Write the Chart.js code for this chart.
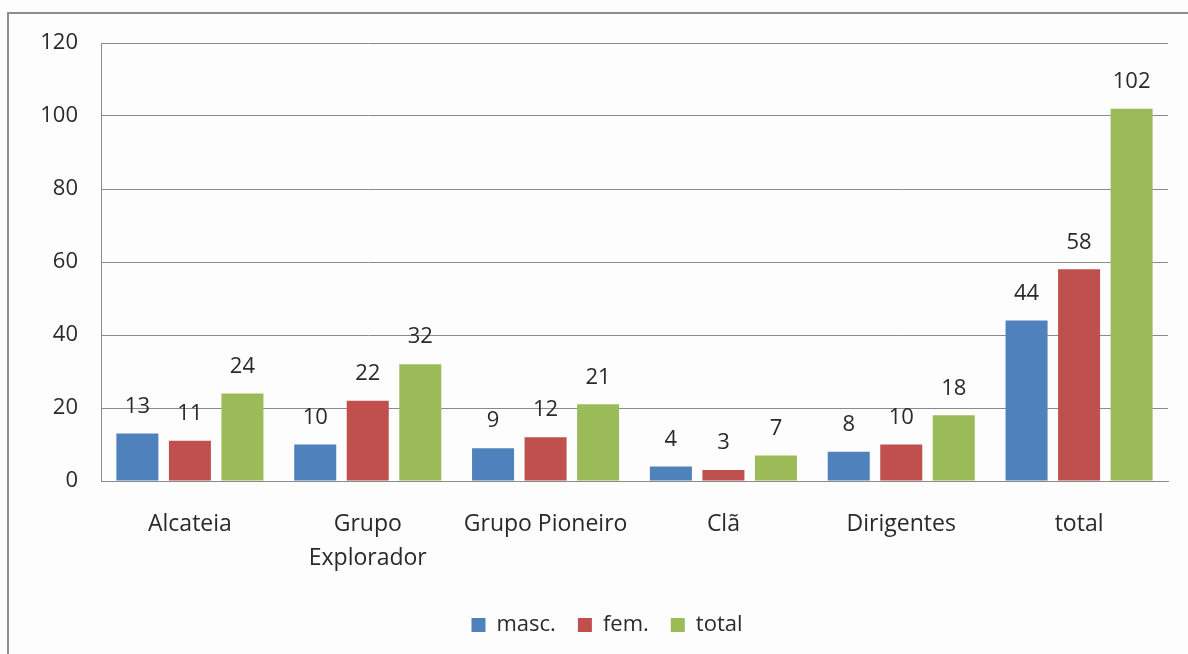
<!DOCTYPE html>
<html>
<head>
<meta charset="utf-8">
<script src="https://cdn.jsdelivr.net/npm/chart.js@4"></script>
<style>
  html, body { margin: 0; padding: 0; background: #fdfdfd; overflow: hidden; }
  #frame {
    position: absolute; left: 7px; top: 12px; width: 1300px; height: 800px;
    border-left: 2px solid #8d8d8d; border-top: 2px solid #8d8d8d;
  }
  #wrap { position: absolute; left: 0; top: 0; width: 1188px; height: 654px; }
</style>
</head>
<body>
<div id="frame"></div>
<div id="wrap"><canvas id="chart"></canvas></div>
<script>
// categorias e séries
const categories = ['Alcateia', ['Grupo', 'Explorador'], 'Grupo Pioneiro', 'Clã', 'Dirigentes', 'total'];
const masc = [13, 10, 9, 4, 8, 44];
const fem = [11, 22, 12, 3, 10, 58];
const total = [24, 32, 21, 7, 18, 102];
const yTicks = [0, 20, 40, 60, 80, 100, 120];

const FONT = '"Open Sans", "Liberation Sans", sans-serif';
const TEXT = '#2a2a2a';
const GRID = '#8a8a8a';

// rótulos de valor acima das barras
const valueLabels = {
    id: 'valueLabels',
    afterDatasetsDraw(chart) {
        const ctx = chart.ctx;
        ctx.save();
        ctx.font = '22px ' + FONT;
        ctx.fillStyle = TEXT;
        ctx.textAlign = 'center';
        ctx.textBaseline = 'middle';
        chart.data.datasets.forEach((ds, i) => {
            chart.getDatasetMeta(i).data.forEach((bar, j) => {
                ctx.fillText(String(ds.data[j]), bar.x, bar.y - 27);
            });
        });
        ctx.restore();
    }
};

// legenda centrada um pouco à direita, como no original
const shiftLegend = {
    id: 'shiftLegend',
    afterLayout(chart) {
        if (chart.legend) chart.legend.left += 46;
    }
};

const ctx = document.getElementById('chart').getContext('2d');
new Chart(ctx, {
    type: 'bar',
    data: {
        labels: categories,
        datasets: [
            { label: 'masc.', data: masc, backgroundColor: '#4F81BD' },
            { label: 'fem.', data: fem, backgroundColor: '#C0504D' },
            { label: 'total', data: total, backgroundColor: '#9BBB59' }
        ]
    },
    options: {
        responsive: true,
        maintainAspectRatio: false,
        animation: false,
        datasets: { bar: { categoryPercentage: 0.886, barPercentage: 0.8 } },
        layout: { padding: { left: 0, right: 20, top: 43, bottom: 8 } },
        plugins: {
            legend: {
                position: 'bottom',
                labels: {
                    color: TEXT,
                    font: { family: FONT, size: 22 },
                    boxWidth: 14,
                    boxHeight: 14,
                    padding: 22
                }
            },
            tooltip: { enabled: false }
        },
        scales: {
            x: {
                grid: { display: false, drawTicks: false },
                border: { color: GRID },
                ticks: {
                    color: TEXT,
                    font: { family: FONT, size: 23, lineHeight: 1.45 },
                    padding: 27,
                    maxRotation: 0,
                    autoSkip: false
                },
                afterFit(scale) { scale.height = 111; }
            },
            y: {
                min: 0,
                max: 120,
                afterBuildTicks(scale) { scale.ticks = yTicks.map(v => ({ value: v })); },
                grid: { color: GRID, drawTicks: false },
                border: { color: GRID },
                ticks: {
                    color: TEXT,
                    font: { family: FONT, size: 22 },
                    padding: 23
                },
                afterFit(scale) { scale.width = 101; }
            }
        }
    },
    plugins: [valueLabels, shiftLegend]
});
</script>
</body>
</html>
